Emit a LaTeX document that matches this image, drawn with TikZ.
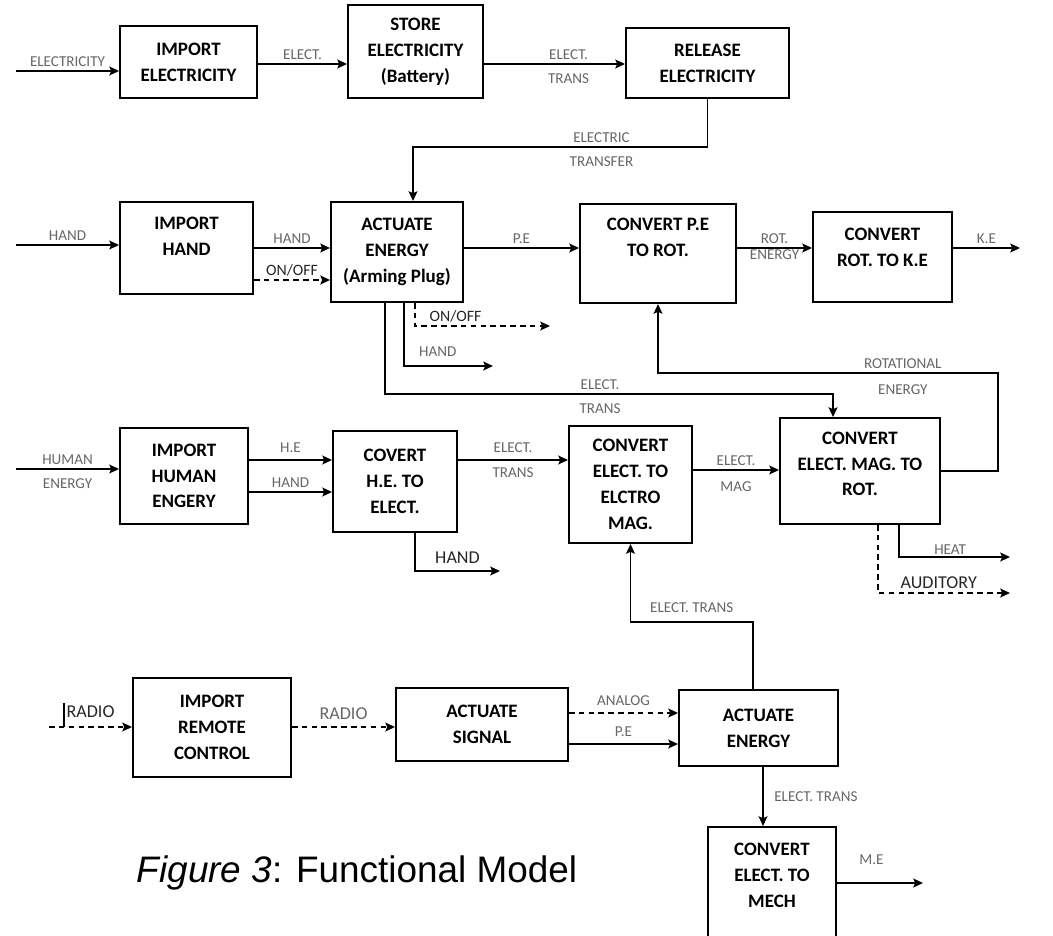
\documentclass[tikz,border=0pt]{standalone}
\usepackage{fontspec}
\setmainfont{Carlito}
\newfontfamily\capfont{Liberation Sans}
\usetikzlibrary{calc,arrows.meta}
\begin{document}
\begin{tikzpicture}[x=0.02cm,y=-0.02cm,>={Stealth[length=5.5pt,width=5pt,inset=1pt]},line width=0.9pt,
	sz/.style 2 args={minimum width=#1*0.02cm,minimum height=#2*0.02cm},
	box/.style={draw,line width=1.1pt,align=center,inner sep=0pt,font=\bfseries\fontsize{10.8}{14.7}\selectfont},
	btxt/.style={align=center,font=\bfseries\fontsize{10.8}{14.7}\selectfont},
	lbl/.style={font=\fontsize{8.6}{10}\selectfont,text=black!60,inner sep=2pt},
	lbl2/.style={font=\fontsize{10.3}{12}\selectfont,text=black!85,inner sep=2pt},
	dsh/.style={dashed,dash pattern=on 3.2pt off 2.4pt}]
	\useasboundingbox(0,0)rectangle(1053,935);
	\node[box,sz={137}{72}](impE)at(188.5,62){IMPORT\\ELECTRICITY};
	\node[box,sz={135}{93}](store)at(415.5,51.5){STORE\\ELECTRICITY\\(Battery)};
	\node[box,sz={163}{70}](rel)at(707.5,63){RELEASE\\ELECTRICITY};
	\node[box,sz={133}{92},label={[btxt,yshift=6.8pt]center:{IMPORT\\HAND}}](impH)at(186.5,248){};
	\node[box,sz={132}{100}](act)at(397,252){ACTUATE\\ENERGY\\(Arming Plug)};
	\node[box,sz={156}{99},label={[btxt,yshift=9.4pt]center:{CONVERT P.E\\TO ROT.}}](cpe)at(658,253.5){};
	\node[box,sz={139}{90},label={[btxt,yshift=5.7pt]center:{CONVERT\\ROT. TO K.E}}](crk)at(882.5,257){};
	\node[box,sz={128}{96}](impHE)at(184,476){IMPORT\\HUMAN\\ENGERY};
	\node[box,sz={124}{101}](che)at(395,481.5){COVERT\\H.E. TO\\ELECT.};
	\node[box,sz={123}{117}](cem)at(630.5,484.5){CONVERT\\ELECT. TO\\ELCTRO\\MAG.};
	\node[box,sz={160}{106},label={[btxt,yshift=4pt]center:{CONVERT\\ELECT. MAG. TO\\ROT.}}](cmr)at(860,471){};
	\node[box,sz={158}{99}](impR)at(212,727.5){IMPORT\\REMOTE\\CONTROL};
	\node[box,sz={172}{73}](sig)at(482,724.5){ACTUATE\\SIGNAL};
	\node[box,sz={159}{76}](act2)at(758.5,728){ACTUATE\\ENERGY};
	\node[box,sz={128}{133},label={[btxt,yshift=10.5pt]center:{CONVERT\\ELECT. TO\\MECH}}](mech)at(772,893.5){};
	\node[font=\capfont\fontsize{21}{24}\selectfont](cap)at(357,873){\textit{Figure 3}: Functional Model};
	\coordinate(eIn)at(16,71);
	\coordinate(hIn)at(16,245);
	\coordinate(heIn)at(16,469);
	\coordinate(rIn)at(49,727);
	\coordinate(keOut)at(1020,248);
	\coordinate(meOut)at(923,883);
	\coordinate(onOut)at(550,326);
	\coordinate(hOut)at(493,366);
	\coordinate(hOut2)at(500,571);
	\coordinate(heatOut)at(1010,557);
	\coordinate(audOut)at(1010,593);
	\draw[->](eIn)--(eIn-|impE.west)node[lbl,above,midway]{ELECTRICITY};
	\draw[->](impE.east|-0,64)--(store.west|-0,64)node[lbl,above,midway]{ELECT.};
	\draw[->](store.east|-0,64)--(rel.west|-0,64)node[lbl,above,pos=.6]{ELECT.}node[lbl,below=3pt,pos=.6]{TRANS};
	\draw[->](rel.south)--++(0,48)-|($(act.north)+(16,0)$)node[lbl,above,pos=.18]{ELECTRIC}node[lbl,below=3pt,pos=.18]{TRANSFER};
	\draw[->](hIn)--(hIn-|impH.west)node[lbl,above,midway]{HAND};
	\draw[->](impH.east)--(impH.east-|act.west)node[lbl,above,midway]{HAND};
	\draw[->,dsh](impH.east|-0,280)--(act.west|-0,280)node[lbl2,above,midway,font=\fontsize{9}{10}\selectfont]{ON/OFF};
	\draw[->](act.east|-0,248)--(cpe.west|-0,248)node[lbl,above,midway]{P.E};
	\draw[->](cpe.east|-0,248)--(crk.west|-0,248)node[lbl,above,midway]{ROT.}node[lbl,below=-1.5pt,midway]{ENERGY};
	\draw[->](crk.east|-0,248)--(keOut)node[lbl,above,midway]{K.E};
	\draw[->,dsh](415,0|-act.south)|-(onOut)node[lbl2,above,pos=.65,font=\fontsize{9}{10}\selectfont]{ON/OFF};
	\draw[->](404,0|-act.south)|-(hOut)node[lbl,above=3pt,pos=.69]{HAND};
	\draw[->](385,0|-act.south)--++(0,91)-|(833,0|-cmr.north)node[lbl,above,pos=.24]{ELECT.}node[lbl,below=3pt,pos=.24]{TRANS};
	\draw[->](cmr.east)-|(998,373)-|(cpe.south)node[lbl,above,pos=.14]{ROTATIONAL}node[lbl,below=4pt,pos=.14]{ENERGY};
	\draw[->](heIn)--(heIn-|impHE.west)node[lbl,above,midway]{HUMAN}node[lbl,below=3pt,midway]{ENERGY};
	\draw[->](impHE.east|-0,460)--(che.west|-0,460)node[lbl,above=2pt,midway]{H.E};
	\draw[->](impHE.east|-0,492)--(che.west|-0,492)node[lbl,above,midway]{HAND};
	\draw[->](che.east|-0,460)--(cem.west|-0,460)node[lbl,above=2pt,midway]{ELECT.}node[lbl,below=2pt,midway]{TRANS};
	\draw[->](415,0|-che.south)|-(hOut2)node[lbl2,above=2pt,pos=.75]{HAND};
	\draw[->](cem.east|-0,470)--(cmr.west|-0,470)node[lbl,above,midway]{ELECT.}node[lbl,below=4pt,midway]{MAG};
	\draw[->](899,0|-cmr.south)|-(heatOut)node[lbl,above=-1pt,pos=.73]{HEAT};
	\draw[->,dsh](878,0|-cmr.south)|-(audOut)node[lbl2,above,pos=.73]{AUDITORY};
	\draw[->,dsh](rIn)--(rIn-|impR.west)node[lbl2,above=3pt,midway]{RADIO};
	\draw[line width=.6pt]($(rIn)+(15,0)$)--++(0,-24);
	\draw[->,dsh](impR.east|-0,727)--(sig.west|-0,727)node[lbl2,above=2pt,midway,text=black!60]{RADIO};
	\draw[->,dsh](sig.east|-0,713)--(act2.west|-0,713)node[lbl,above=2pt,midway]{ANALOG};
	\draw[->](sig.east|-0,744)--(act2.west|-0,744)node[lbl,above=2pt,midway]{P.E};
	\draw[->](753,0|-act2.north)--++(0,-67)-|(cem.south)node[lbl,above=3pt,pos=.25]{ELECT. TRANS};
	\draw[->](763,0|-act2.south)--(763,0|-mech.north)node[lbl,right=4pt,midway]{ELECT. TRANS};
	\draw[->](mech.east|-0,883)--(meOut)node[lbl,above=8pt,pos=.4]{M.E};
\end{tikzpicture}
\end{document}
